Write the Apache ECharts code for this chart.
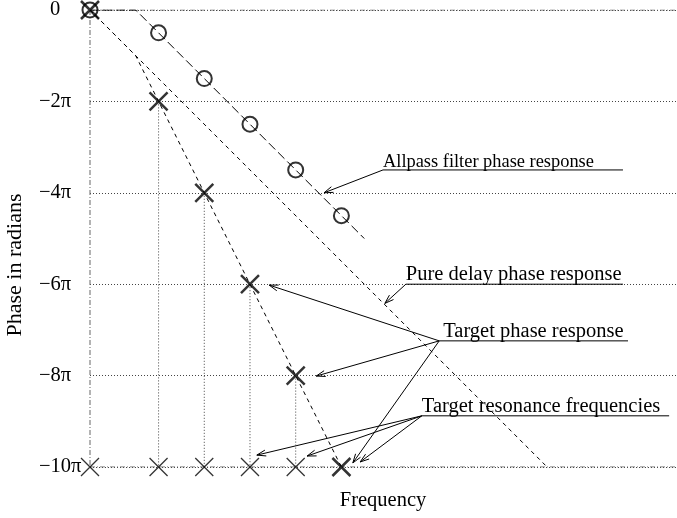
<!DOCTYPE html>
<html>
<head>
<meta charset="utf-8">
<script src="https://cdn.jsdelivr.net/npm/echarts@6/dist/echarts.min.js"></script>
<style>
html,body{margin:0;padding:0;background:#fff;}
#chart{width:677px;height:518px;}
</style>
</head>
<body>
<div id="chart"></div>
<script>
// ---- data (phase values are in units of pi radians) ----
const resonanceFreqs = [1.5, 2.5, 3.5, 4.5, 5.5];
const targetPhase = [-2, -4, -6, -8, -10];
const allpassPointFreqs = [0, 1.5, 2.5, 3.5, 4.5, 5.5];
const allpassPointPhase = [0, -0.5, -1.5, -2.5, -3.5, -4.5];
const targetCurveFreq = [0, 1, 1.5, 2.5, 3.5, 4.5, 5.5];
const targetCurvePhase = [0, -1, -2, -4, -6, -8, -10];
const allpassCurveFreq = [0, 1, 1.5, 2.5, 3.5, 4.5, 5.5, 6];
const allpassCurvePhase = [0, 0, -0.5, -1.5, -2.5, -3.5, -4.5, -5];
const delayCurveFreq = [0, 10];
const delayCurvePhase = [0, -10];
const bottomCrossFreqs = [0, 1.5, 2.5, 3.5, 4.5];
const yTickValues = [0, -2, -4, -6, -8, -10];
const yTickLabels = ['0', '\u22122\u03c0', '\u22124\u03c0', '\u22126\u03c0', '\u22128\u03c0', '\u221210\u03c0'];
const xMax = 12.82;
const yMin = -10;

// annotation labels (anchored in data coordinates)
const annTexts = ['Allpass filter phase response', 'Pure delay phase response', 'Target phase response', 'Target resonance frequencies'];
const annLines = [[[6.41, -3.5], [11.66, -3.5]], [[6.91, -6.0], [11.66, -6.0]], [[7.64, -7.24], [11.77, -7.24]], [[7.26, -8.88], [12.67, -8.88]]];
const annTips = [[[5.12, -4.0]], [[6.45, -6.42]], [[3.92, -6.02], [4.95, -8.01], [5.75, -9.91]], [[3.65, -9.74], [4.75, -9.76], [5.91, -9.89]]];
const annFontSizes = [18.4, 20.5, 20.5, 20.5];

const zip = (a, b) => a.map((v, i) => [v, b[i]]);
const crossPath = 'path://M0,0L10,10M10,0L0,10';
const FONT = '"Liberation Serif", "Times New Roman", serif';

const chart = echarts.init(document.getElementById('chart'), null, {renderer: 'canvas'});

const series = [];
// border lines (dash-dot)
const borderStyle = {color: '#666', width: 1, type: [5, 2, 1, 2]};
series.push({type: 'line', data: [[0, 0], [xMax, 0]], symbol: 'none', lineStyle: borderStyle, silent: true, z: 1});
series.push({type: 'line', data: [[0, yMin], [xMax, yMin]], symbol: 'none', lineStyle: borderStyle, silent: true, z: 1});
series.push({type: 'line', data: [[0, 0], [0, yMin]], symbol: 'none', lineStyle: borderStyle, silent: true, z: 1});
// drop lines from target points
resonanceFreqs.forEach((f, i) => {
  if (targetPhase[i] > yMin) {
    series.push({type: 'line', data: [[f, targetPhase[i]], [f, yMin]], symbol: 'none',
      lineStyle: {color: '#444', width: 1, type: [1, 2]}, silent: true, z: 1});
  }
});
// pure delay
series.push({type: 'line', data: zip(delayCurveFreq, delayCurvePhase), symbol: 'none',
  lineStyle: {color: '#000', width: 1, type: [4, 4]}, z: 2});
// target phase curve
series.push({type: 'line', data: zip(targetCurveFreq, targetCurvePhase), symbol: 'none',
  lineStyle: {color: '#000', width: 1, type: [4, 4]}, z: 2});
// allpass curve
series.push({type: 'line', data: zip(allpassCurveFreq, allpassCurvePhase), symbol: 'none',
  lineStyle: {color: '#000', width: 1, type: [9, 4]}, z: 2});
// allpass points (circles)
series.push({type: 'scatter', data: zip(allpassPointFreqs, allpassPointPhase), symbol: 'circle', symbolSize: 15,
  itemStyle: {color: 'none', borderColor: '#000', borderWidth: 2}, z: 3});
// target points (bold crosses)
series.push({type: 'scatter', data: [[0, 0]].concat(zip(resonanceFreqs, targetPhase)), symbol: crossPath, symbolSize: 18,
  itemStyle: {color: 'none', borderColor: '#000', borderWidth: 2.5}, z: 4});
// resonance frequency markers on bottom (thin crosses)
series.push({type: 'scatter', data: bottomCrossFreqs.map(f => [f, yMin]), symbol: crossPath, symbolSize: 18,
  itemStyle: {color: 'none', borderColor: '#000', borderWidth: 1.3}, z: 4});

chart.setOption({
  animation: false,
  backgroundColor: '#fff',
  grid: {left: 90, right: 1, top: 10, bottom: 51, containLabel: false, outerBoundsMode: 'none'},
  xAxis: {
    type: 'value', min: 0, max: xMax,
    name: 'Frequency', nameLocation: 'middle', nameGap: 23,
    nameTextStyle: {fontFamily: FONT, fontSize: 20.5, color: '#000'},
    axisLine: {show: false}, axisTick: {show: false}, axisLabel: {show: false}, splitLine: {show: false}
  },
  yAxis: {
    type: 'value', min: yMin, max: 0, interval: 2,
    axisLine: {show: false}, axisTick: {show: false},
    axisLabel: {
      align: 'left', margin: 51, fontFamily: FONT, fontSize: 20.5, color: '#000',
      formatter: v => {
        const i = yTickValues.indexOf(v);
        const t = i >= 0 ? yTickLabels[i] : '';
        return v === 0 ? '{z|' + t + '}' : t;
      },
      rich: {z: {fontFamily: FONT, fontSize: 20.5, color: '#000', padding: [0, 0, 0, 11]}}
    },
    splitLine: {show: true, lineStyle: {color: '#444', width: 1, type: [1, 2]}}
  },
  series: series
});

function buildGraphics() {
  const els = [];
  const px = p => chart.convertToPixel({gridIndex: 0}, p);
  annTexts.forEach((txt, k) => {
    const a = px(annLines[k][0]);
    const b = px(annLines[k][1]);
    els.push({type: 'line', shape: {x1: a[0], y1: a[1], x2: b[0], y2: b[1]}, style: {stroke: '#000', lineWidth: 1}, silent: true});
    els.push({type: 'text', x: a[0] + (k === 2 ? 4 : 0), y: a[1] + 1,
      style: {text: txt, font: annFontSizes[k] + 'px ' + FONT, fill: '#000', align: 'left', verticalAlign: 'bottom'}, silent: true});
    annTips[k].forEach(tp => {
      const t = px(tp);
      const dx = t[0] - a[0], dy = t[1] - a[1];
      const len = Math.sqrt(dx * dx + dy * dy);
      const ux = dx / len, uy = dy / len;
      const hl = 9, hw = 3;
      const bx = t[0] - ux * hl, by = t[1] - uy * hl;
      els.push({type: 'line', shape: {x1: a[0], y1: a[1], x2: t[0], y2: t[1]}, style: {stroke: '#000', lineWidth: 1}, silent: true});
      els.push({type: 'polyline', shape: {points: [[bx - uy * hw, by + ux * hw], [t[0], t[1]], [bx + uy * hw, by - ux * hw]]},
        style: {stroke: '#000', lineWidth: 1, fill: null}, silent: true});
    });
  });
  els.push({type: 'text', x: 15, y: 265, rotation: Math.PI / 2,
    style: {text: 'Phase in radians', font: '22px ' + FONT, fill: '#000', align: 'center', verticalAlign: 'middle'}, silent: true});
  chart.setOption({graphic: {elements: els}});
}
buildGraphics();
</script>
</body>
</html>
